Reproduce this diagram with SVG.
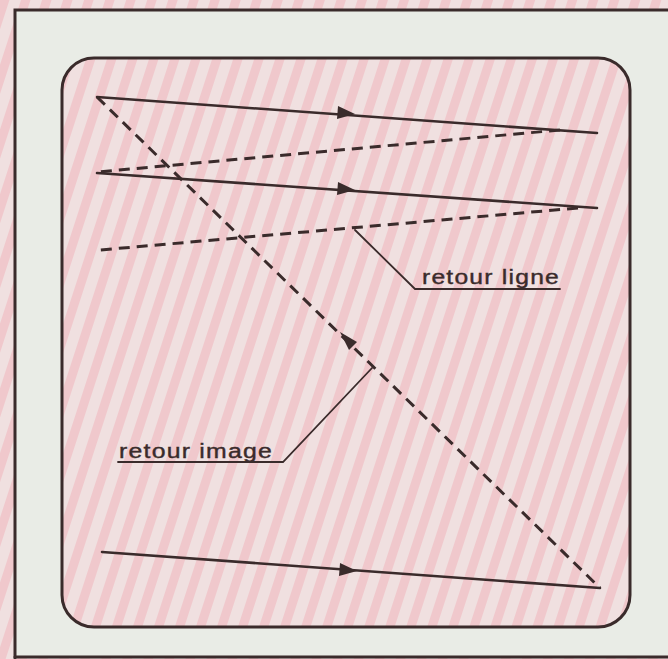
<svg xmlns="http://www.w3.org/2000/svg" width="668" height="659" viewBox="0 0 668 659">
<defs>
<pattern id="stripes" patternUnits="userSpaceOnUse" width="20" height="20" patternTransform="rotate(18)">
<rect width="20" height="20" fill="#f0e0e0"/>
<rect width="9" height="20" fill="#f0c8cc"/>
</pattern>
<marker id="arr" viewBox="0 0 10 10" refX="7" refY="5" markerWidth="8" markerHeight="8" markerUnits="userSpaceOnUse" orient="auto">
<path d="M0,0 L10,5 L0,10 z" fill="#3a2a2a"/>
</marker>
</defs>
<style>
.ink{stroke:#3a2b2b;fill:none;stroke-linecap:round}
.solid{stroke-width:2.6}
.dash{stroke-width:3;stroke-dasharray:11 7;stroke-linecap:butt}
.lead{stroke-width:1.8}
.lbl{font-family:"Liberation Sans",Arial,sans-serif;font-size:20px;fill:#3a2b2b;stroke:#3a2b2b;stroke-width:0.4;letter-spacing:1px}
.ah{fill:#3a2b2b}
</style>
<rect x="0" y="0" width="668" height="659" fill="url(#stripes)"/>
<rect x="15" y="10" width="660" height="648" fill="#e9ece6"/>
<path class="ink" d="M15,658 L15,10 L668,10" stroke-width="3"/>
<line class="ink" x1="15" y1="657" x2="668" y2="657" stroke-width="3"/>
<g id="screen">
<rect x="62" y="58" width="568" height="569" rx="32" ry="32" fill="url(#stripes)" stroke="#3a2b2b" stroke-width="3"/>
</g>
<g id="connectors">
<line id="l1" class="ink solid" x1="97" y1="97" x2="597" y2="133"/>
<line id="r1" class="ink dash" x1="560" y1="130" x2="97" y2="172"/>
<line id="l2" class="ink solid" x1="97" y1="173" x2="597" y2="208"/>
<line id="r2" class="ink dash" x1="578" y1="208" x2="100" y2="250"/>
<line id="ri" class="ink dash" x1="97" y1="97" x2="600" y2="588"/>
<line id="l3" class="ink solid" x1="102" y1="552" x2="600" y2="588"/>
<path class="ah" d="M355,114 L337,119 L338,106 z"/>
<path class="ah" d="M355,190 L337,195 L338,182 z"/>
<path class="ah" d="M357,571 L339,576 L340,563 z"/>
<path class="ah" d="M340,332 L357,342 L349,350 z"/>
<path class="ink lead" d="M355,230 L415,289 L560,289"/>
<path class="ink lead" d="M372,368 L283,462 L118,462"/>
</g>
<g id="label-ligne">
<text class="lbl" x="422" y="284" textLength="138" lengthAdjust="spacingAndGlyphs">retour ligne</text>
</g>
<g id="label-image">
<text class="lbl" x="119" y="458" textLength="154" lengthAdjust="spacingAndGlyphs">retour image</text>
</g>
</svg>
